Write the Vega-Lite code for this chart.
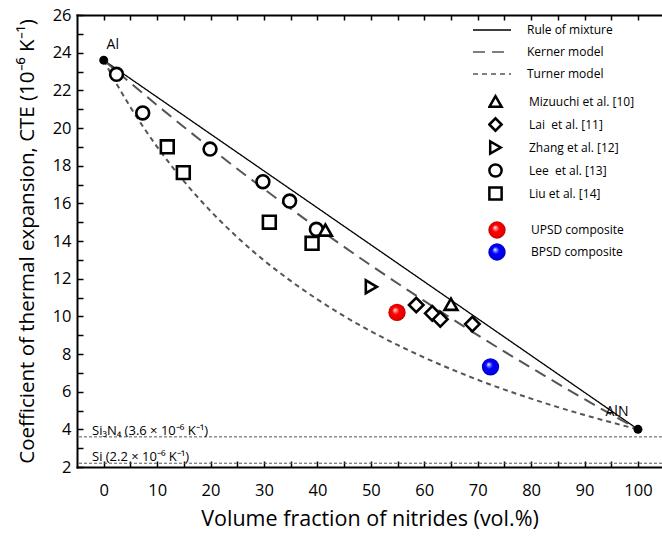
{
  "$schema": "https://vega.github.io/schema/vega-lite/v6.json",
  "width": 585,
  "height": 452,
  "autosize": {"type": "none"},
  "padding": {"left": 77, "top": 15, "right": 0, "bottom": 69},
  "background": "white",
  "config": {
    "view": {"stroke": null},
    "font": "Open Sans",
    "axis": {
      "grid": false,
      "labelFont": "Open Sans",
      "titleFont": "Open Sans",
      "labelColor": "black",
      "titleColor": "black",
      "tickColor": "black",
      "domainColor": "black",
      "domainWidth": 2,
      "domainCap": "square",
      "tickWidth": 1.5,
      "titleFontWeight": "normal",
      "labelFontSize": 16.5,
      "titleFontSize": 21.5
    },
    "legend": {"labelFont": "Open Sans", "labelFontSize": 12, "labelColor": "black", "padding": 0}
  },
  "datasets": {
    "lines": [
      {"model": "Rule of mixture", "x": 0, "y": 23.6},
      {"model": "Rule of mixture", "x": 100, "y": 4.0},
      {"model": "Kerner model", "x": 0, "y": 23.6},
      {"model": "Kerner model", "x": 5, "y": 22.39},
      {"model": "Kerner model", "x": 10, "y": 21.21},
      {"model": "Kerner model", "x": 20, "y": 18.93},
      {"model": "Kerner model", "x": 30, "y": 16.76},
      {"model": "Kerner model", "x": 40, "y": 14.69},
      {"model": "Kerner model", "x": 50, "y": 12.71},
      {"model": "Kerner model", "x": 60, "y": 10.82},
      {"model": "Kerner model", "x": 70, "y": 9.0},
      {"model": "Kerner model", "x": 80, "y": 7.27},
      {"model": "Kerner model", "x": 90, "y": 5.6},
      {"model": "Kerner model", "x": 95, "y": 4.79},
      {"model": "Kerner model", "x": 100, "y": 4.0},
      {"model": "Turner model", "x": 0, "y": 23.6},
      {"model": "Turner model", "x": 2.5, "y": 22.3},
      {"model": "Turner model", "x": 5, "y": 21.11},
      {"model": "Turner model", "x": 10, "y": 19.0},
      {"model": "Turner model", "x": 15, "y": 17.18},
      {"model": "Turner model", "x": 20, "y": 15.59},
      {"model": "Turner model", "x": 25, "y": 14.2},
      {"model": "Turner model", "x": 30, "y": 12.97},
      {"model": "Turner model", "x": 35, "y": 11.88},
      {"model": "Turner model", "x": 40, "y": 10.9},
      {"model": "Turner model", "x": 45, "y": 10.01},
      {"model": "Turner model", "x": 50, "y": 9.21},
      {"model": "Turner model", "x": 55, "y": 8.48},
      {"model": "Turner model", "x": 60, "y": 7.81},
      {"model": "Turner model", "x": 65, "y": 7.2},
      {"model": "Turner model", "x": 70, "y": 6.63},
      {"model": "Turner model", "x": 75, "y": 6.11},
      {"model": "Turner model", "x": 80, "y": 5.63},
      {"model": "Turner model", "x": 85, "y": 5.18},
      {"model": "Turner model", "x": 90, "y": 4.76},
      {"model": "Turner model", "x": 95, "y": 4.37},
      {"model": "Turner model", "x": 100, "y": 4.0}
    ],
    "pts": [
      {"source": "Lee\u00a0 et al. [13]", "x": 2.4, "y": 22.85},
      {"source": "Lee\u00a0 et al. [13]", "x": 7.3, "y": 20.8},
      {"source": "Lee\u00a0 et al. [13]", "x": 19.9, "y": 18.88},
      {"source": "Lee\u00a0 et al. [13]", "x": 29.8, "y": 17.15},
      {"source": "Lee\u00a0 et al. [13]", "x": 34.8, "y": 16.12},
      {"source": "Lee\u00a0 et al. [13]", "x": 39.8, "y": 14.62},
      {"source": "\u00a0Mizuuchi et al. [10]", "x": 41.5, "y": 14.58},
      {"source": "\u00a0Mizuuchi et al. [10]", "x": 65.0, "y": 10.64},
      {"source": "Liu et al. [14]", "x": 11.9, "y": 19.0},
      {"source": "Liu et al. [14]", "x": 14.9, "y": 17.63},
      {"source": "Liu et al. [14]", "x": 31.0, "y": 15.0},
      {"source": "Liu et al. [14]", "x": 39.0, "y": 13.88},
      {"source": "Zhang et al. [12]", "x": 50.1, "y": 11.57},
      {"source": "Lai\u00a0 et al. [11]", "x": 58.5, "y": 10.6},
      {"source": "Lai\u00a0 et al. [11]", "x": 61.5, "y": 10.16},
      {"source": "Lai\u00a0 et al. [11]", "x": 63.0, "y": 9.84},
      {"source": "Lai\u00a0 et al. [11]", "x": 69.0, "y": 9.59}
    ],
    "spheres": [
      {"sample": "UPSD composite", "x": 54.9, "y": 10.21},
      {"sample": "BPSD composite", "x": 72.4, "y": 7.32}
    ],
    "ends": [
      {"name": "Al", "x": 0, "y": 23.6},
      {"name": "AlN", "x": 100, "y": 4.0}
    ],
    "refs": [
      {"label": "Si\u2083N\u2084 (3.6 \u00d7 10\u207b\u2076 K\u207b\u00b9)", "y": 3.6},
      {"label": "Si (2.2 \u00d7 10\u207b\u2076 K\u207b\u00b9)", "y": 2.2}
    ]
  },
  "layer": [
    {
      "data": {"name": "refs"},
      "mark": {"type": "rule", "stroke": "#555555", "strokeWidth": 1, "strokeDash": [3, 2]},
      "encoding": {
        "y": {"field": "y", "type": "quantitative", "scale": {"domain": [2, 26], "nice": false, "zero": false}, "axis": null}
      }
    },
    {
      "data": {"name": "refs"},
      "mark": {"type": "text", "align": "left", "baseline": "alphabetic", "dx": 15, "dy": -2, "fontSize": 13, "font": "Open Sans", "color": "black"},
      "encoding": {
        "x": {"datum": -5, "type": "quantitative", "axis": null},
        "y": {"field": "y", "type": "quantitative", "axis": null},
        "text": {"field": "label"}
      }
    },
    {
      "data": {"name": "lines"},
      "transform": [{"filter": "datum.model === 'Rule of mixture'"}],
      "mark": {"type": "line", "strokeWidth": 1.3},
      "encoding": {
        "x": {
          "field": "x", "type": "quantitative",
          "scale": {"domain": [-5, 104.5], "nice": false, "zero": false},
          "axis": {
            "orient": "bottom",
            "values": [0, 5, 10, 15, 20, 25, 30, 35, 40, 45, 50, 55, 60, 65, 70, 75, 80, 85, 90, 95, 100],
            "labelExpr": "datum.value % 10 === 0 ? datum.label : ''",
            "tickSize": -6,
            "labelPadding": 21,
            "labelOverlap": false,
            "labelFlush": false,
            "title": "Volume fraction of nitrides (vol.%)",
            "titlePadding": 10
          }
        },
        "y": {
          "field": "y", "type": "quantitative",
          "scale": {"domain": [2, 26], "nice": false, "zero": false},
          "axis": {
            "orient": "left",
            "values": [2, 3, 4, 5, 6, 7, 8, 9, 10, 11, 12, 13, 14, 15, 16, 17, 18, 19, 20, 21, 22, 23, 24, 25, 26],
            "labelExpr": "datum.value % 2 === 0 ? datum.label : ''",
            "tickSize": -6,
            "labelPadding": 12,
            "labelOverlap": false,
            "labelFlush": false,
            "title": "Coefficient of thermal expansion, CTE (10\u207b\u2076 K\u207b\u00b9)",
            "titleFontSize": 20.5,
            "titlePadding": 15
          }
        },
        "color": {
          "field": "model", "type": "nominal",
          "scale": {"domain": ["Rule of mixture", "Kerner model", "Turner model"], "range": ["#000000", "#555555", "#555555"]},
          "legend": {"orient": "none", "legendX": 395, "legendY": 4, "title": null, "symbolType": "stroke", "symbolSize": 1444, "symbolStrokeWidth": 1.6, "labelOffset": 15, "clipHeight": 22, "rowPadding": 0}
        },
        "strokeDash": {
          "field": "model", "type": "nominal",
          "scale": {"domain": ["Rule of mixture", "Kerner model", "Turner model"], "range": [[1, 0], [12, 7], [5, 4]]},
          "legend": {"orient": "none", "legendX": 395, "legendY": 4, "title": null, "symbolType": "stroke", "symbolSize": 1444, "symbolStrokeWidth": 1.6, "labelOffset": 15, "clipHeight": 22, "rowPadding": 0}
        }
      }
    },
    {
      "data": {"name": "lines"},
      "transform": [{"filter": "datum.model !== 'Rule of mixture'"}],
      "mark": {"type": "line", "strokeWidth": 2, "interpolate": "monotone"},
      "encoding": {
        "x": {"field": "x", "type": "quantitative", "axis": null},
        "y": {"field": "y", "type": "quantitative", "axis": null},
        "color": {"field": "model", "type": "nominal", "scale": {"domain": ["Rule of mixture", "Kerner model", "Turner model"], "range": ["#000000", "#555555", "#555555"]}, "legend": {"orient": "none", "legendX": 395, "legendY": 4, "title": null, "symbolType": "stroke", "symbolSize": 1444, "symbolStrokeWidth": 1.6, "labelOffset": 15, "clipHeight": 22, "rowPadding": 0}},
        "strokeDash": {"field": "model", "type": "nominal", "scale": {"domain": ["Rule of mixture", "Kerner model", "Turner model"], "range": [[1, 0], [12, 7], [5, 4]]}, "legend": {"orient": "none", "legendX": 395, "legendY": 4, "title": null, "symbolType": "stroke", "symbolSize": 1444, "symbolStrokeWidth": 1.6, "labelOffset": 15, "clipHeight": 22, "rowPadding": 0}}
      }
    },
    {
      "data": {"name": "pts"},
      "transform": [{"filter": "indexof(datum.source, 'Lai') < 0"}],
      "mark": {"type": "point", "filled": true, "fill": "white", "stroke": "black", "strokeWidth": 2.6, "size": 165, "opacity": 1},
      "encoding": {
        "x": {"field": "x", "type": "quantitative", "axis": null},
        "y": {"field": "y", "type": "quantitative", "axis": null},
        "shape": {
          "field": "source", "type": "nominal",
          "scale": {"domain": ["\u00a0Mizuuchi et al. [10]", "Lai\u00a0 et al. [11]", "Zhang et al. [12]", "Lee\u00a0 et al. [13]", "Liu et al. [14]"], "range": ["triangle-up", "diamond", "triangle-right", "circle", "square"]},
          "legend": {"orient": "none", "legendX": 411, "legendY": 75, "title": null, "symbolSize": 150, "symbolStrokeWidth": 2.5, "labelOffset": 26, "clipHeight": 23, "rowPadding": 0}
        }
      }
    },
    {
      "data": {"name": "pts"},
      "transform": [{"filter": "indexof(datum.source, 'Lai') >= 0"}],
      "mark": {"type": "point", "filled": true, "fill": "white", "stroke": "black", "strokeWidth": 2.6, "size": 210, "opacity": 1},
      "encoding": {
        "x": {"field": "x", "type": "quantitative", "axis": null},
        "y": {"field": "y", "type": "quantitative", "axis": null},
        "shape": {
          "field": "source", "type": "nominal",
          "scale": {"domain": ["\u00a0Mizuuchi et al. [10]", "Lai\u00a0 et al. [11]", "Zhang et al. [12]", "Lee\u00a0 et al. [13]", "Liu et al. [14]"], "range": ["triangle-up", "diamond", "triangle-right", "circle", "square"]},
          "legend": {"orient": "none", "legendX": 411, "legendY": 75, "title": null, "symbolSize": 150, "symbolStrokeWidth": 2.5, "labelOffset": 26, "clipHeight": 23, "rowPadding": 0}
        }
      }
    },
    {
      "data": {"name": "spheres"},
      "mark": {"type": "point", "filled": true, "shape": "circle", "size": 300, "strokeWidth": 0},
      "encoding": {
        "x": {"field": "x", "type": "quantitative", "axis": null},
        "y": {"field": "y", "type": "quantitative", "axis": null},
        "fill": {
          "condition": {
            "test": "datum.sample === 'UPSD composite'",
            "value": {"gradient": "radial", "x1": 0.38, "y1": 0.35, "r1": 0, "x2": 0.5, "y2": 0.5, "r2": 0.5,
              "stops": [{"offset": 0, "color": "#ffffff"}, {"offset": 0.18, "color": "#ff8080"}, {"offset": 0.42, "color": "#ff0000"}, {"offset": 0.85, "color": "#e80000"}, {"offset": 1, "color": "#b00000"}]}
          },
          "value": {"gradient": "radial", "x1": 0.38, "y1": 0.35, "r1": 0, "x2": 0.5, "y2": 0.5, "r2": 0.5,
            "stops": [{"offset": 0, "color": "#ffffff"}, {"offset": 0.18, "color": "#8080ff"}, {"offset": 0.42, "color": "#0000ff"}, {"offset": 0.85, "color": "#0000e8"}, {"offset": 1, "color": "#0000b0"}]}
        },
        "opacity": {
          "field": "sample", "type": "nominal",
          "scale": {"domain": ["UPSD composite", "BPSD composite"], "range": [1, 1]},
          "legend": {
            "orient": "none", "legendX": 411, "legendY": 204, "title": null, "symbolSize": 300, "symbolStrokeWidth": 0, "labelOffset": 25, "clipHeight": 22, "rowPadding": 0,
            "encoding": {
              "symbols": {
                "fill": {
                  "condition": {
                    "test": "datum.value === 'UPSD composite'",
                    "value": {"gradient": "radial", "x1": 0.38, "y1": 0.35, "r1": 0, "x2": 0.5, "y2": 0.5, "r2": 0.5,
                      "stops": [{"offset": 0, "color": "#ffffff"}, {"offset": 0.18, "color": "#ff8080"}, {"offset": 0.42, "color": "#ff0000"}, {"offset": 0.85, "color": "#e80000"}, {"offset": 1, "color": "#b00000"}]}
                  },
                  "value": {"gradient": "radial", "x1": 0.38, "y1": 0.35, "r1": 0, "x2": 0.5, "y2": 0.5, "r2": 0.5,
                    "stops": [{"offset": 0, "color": "#ffffff"}, {"offset": 0.18, "color": "#8080ff"}, {"offset": 0.42, "color": "#0000ff"}, {"offset": 0.85, "color": "#0000e8"}, {"offset": 1, "color": "#0000b0"}]}
                }
              }
            }
          }
        }
      }
    },
    {
      "data": {"name": "ends"},
      "mark": {"type": "point", "filled": true, "shape": "circle", "size": 80, "color": "black", "opacity": 1},
      "encoding": {
        "x": {
          "field": "x", "type": "quantitative",
          "axis": {
            "orient": "top",
            "values": [0, 5, 10, 15, 20, 25, 30, 35, 40, 45, 50, 55, 60, 65, 70, 75, 80, 85, 90, 95, 100],
            "labels": false, "tickSize": -5, "title": null
          }
        },
        "y": {"field": "y", "type": "quantitative", "axis": null}
      }
    },
    {
      "data": {"name": "ends"},
      "transform": [{"filter": "datum.name === 'Al'"}],
      "mark": {"type": "text", "dx": 9, "dy": -15, "fontSize": 14, "font": "Open Sans", "color": "black"},
      "encoding": {
        "x": {"field": "x", "type": "quantitative", "axis": null},
        "y": {"field": "y", "type": "quantitative", "axis": null},
        "text": {"field": "name"}
      }
    },
    {
      "data": {"name": "ends"},
      "transform": [{"filter": "datum.name === 'AlN'"}],
      "mark": {"type": "text", "dx": -21, "dy": -17, "fontSize": 14, "font": "Open Sans", "color": "black"},
      "encoding": {
        "x": {"field": "x", "type": "quantitative", "axis": null},
        "y": {"field": "y", "type": "quantitative", "axis": null},
        "text": {"field": "name"}
      }
    }
  ],
  "resolve": {"axis": {"x": "independent", "y": "independent"}}
}
